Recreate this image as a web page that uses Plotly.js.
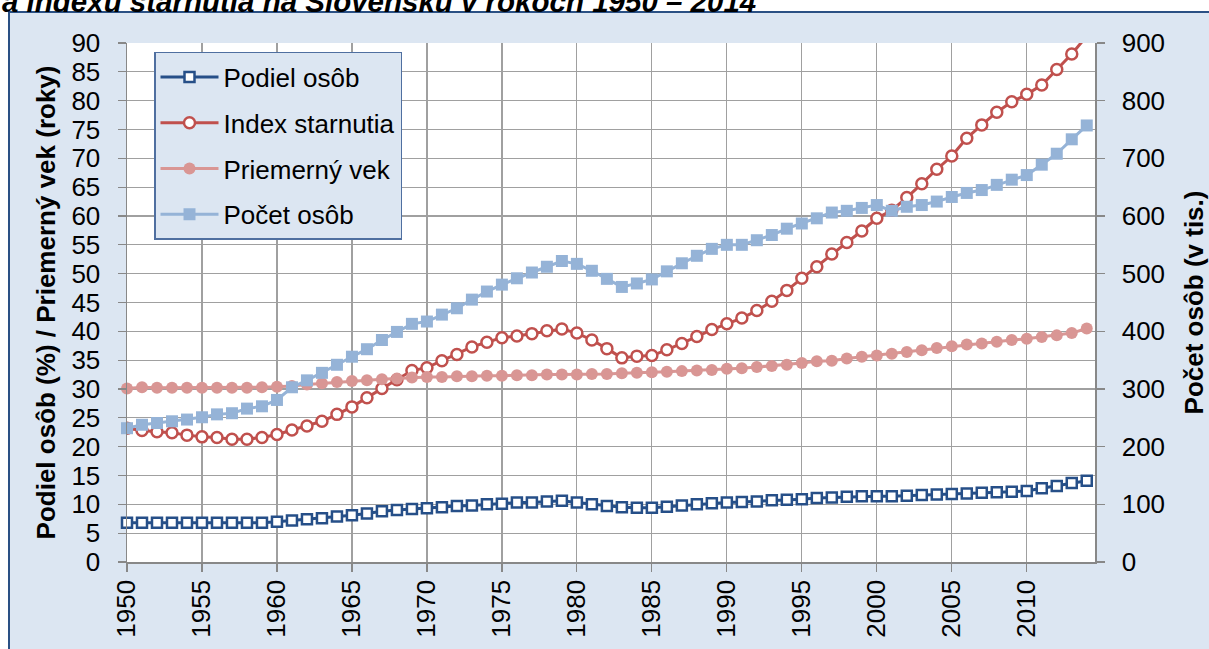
<!DOCTYPE html>
<html>
<head>
<meta charset="utf-8">
<script src="https://cdn.plot.ly/plotly-3.0.1.min.js"></script>
<style>
html,body{margin:0;padding:0;background:#fff;}
#chart{width:1209px;height:649px;}
</style>
</head>
<body>
<div id="chart"></div>
<script>
var years = [1950,1951,1952,1953,1954,1955,1956,1957,1958,1959,
  1960,1961,1962,1963,1964,1965,1966,1967,1968,1969,
  1970,1971,1972,1973,1974,1975,1976,1977,1978,1979,
  1980,1981,1982,1983,1984,1985,1986,1987,1988,1989,
  1990,1991,1992,1993,1994,1995,1996,1997,1998,1999,
  2000,2001,2002,2003,2004,2005,2006,2007,2008,2009,
  2010,2011,2012,2013,2014];

var podielOsob = [6.8,6.8,6.8,6.8,6.8,6.8,6.8,6.8,6.8,6.8,
  7.0,7.2,7.4,7.6,7.9,8.1,8.4,8.8,9.0,9.2,
  9.3,9.5,9.7,9.8,10.0,10.1,10.3,10.3,10.5,10.6,
  10.3,10.0,9.7,9.5,9.4,9.4,9.6,9.8,10.0,10.2,
  10.3,10.4,10.5,10.7,10.8,10.9,11.1,11.2,11.3,11.4,
  11.4,11.4,11.5,11.6,11.7,11.8,11.9,12.0,12.1,12.2,
  12.3,12.8,13.2,13.7,14.1];

var indexStarnutia = [23.2,22.8,22.6,22.4,22.0,21.7,21.6,21.3,21.3,21.6,
  22.1,22.9,23.6,24.4,25.6,26.9,28.5,30.1,31.6,33.2,
  33.7,34.9,36.0,37.3,38.1,38.9,39.2,39.6,40.1,40.4,
  39.7,38.5,37.0,35.4,35.7,35.8,36.8,37.9,39.1,40.3,
  41.3,42.3,43.6,45.2,47.1,49.2,51.2,53.4,55.4,57.4,
  59.6,61.0,63.2,65.6,68.1,70.4,73.5,75.8,78.0,79.8,
  81.1,82.7,85.4,88.1,91.2];

var priemernyVek = [30.1,30.3,30.2,30.2,30.2,30.2,30.2,30.2,30.2,30.3,
  30.4,30.5,30.8,31.0,31.2,31.4,31.5,31.7,31.8,32.0,
  32.1,32.1,32.2,32.2,32.3,32.3,32.4,32.4,32.5,32.5,
  32.5,32.6,32.6,32.75,32.8,32.9,33.0,33.1,33.2,33.3,
  33.5,33.6,33.8,34.0,34.2,34.5,34.8,34.9,35.3,35.6,
  35.8,36.1,36.4,36.7,37.1,37.4,37.7,37.9,38.2,38.5,
  38.7,39.0,39.3,39.7,40.5];

var pocetOsob = [232,238,241,244,247,251,256,258,266,270,
  281,303,315,328,342,356,369,385,399,413,
  417,429,440,455,469,481,492,502,512,522,
  517,505,491,477,483,490,504,518,531,543,
  550,550,558,567,578,587,596,606,609,614,
  619,609,616,619,625,633,640,645,654,663,
  671,689,708,733,757];

var seriesNames = ['Podiel osôb','Index starnutia','Priemerný vek','Počet osôb'];
var chartTitle = 'a indexu starnutia na Slovensku v rokoch 1950 – 2014';
var leftTitle = 'Podiel osôb (%) / Priemerný vek (roky)';
var rightTitle = 'Počet osôb (v tis.)';

var FONT = 'Liberation Sans, Arial, sans-serif';

var traces = [
  {x: years, y: podielOsob, name: seriesNames[0], type: 'scatter', mode: 'lines+markers',
   legendgroup: 'a', cliponaxis: false,
   line: {color: '#264f88', width: 3},
   marker: {symbol: 'square', size: 10, color: '#ffffff', line: {color: '#264f88', width: 2.5}}},
  {x: years, y: indexStarnutia, name: seriesNames[1], type: 'scatter', mode: 'lines+markers',
   legendgroup: 'b', cliponaxis: true,
   line: {color: '#c0504d', width: 3},
   marker: {symbol: 'circle', size: 11, color: '#ffffff', line: {color: '#c0504d', width: 2.5}}},
  {x: years, y: priemernyVek, name: seriesNames[2], type: 'scatter', mode: 'lines+markers',
   legendgroup: 'c', cliponaxis: false,
   line: {color: '#d99694', width: 3},
   marker: {symbol: 'circle', size: 12, color: '#d99694'}},
  {x: years, y: pocetOsob, name: seriesNames[3], type: 'scatter', mode: 'lines+markers',
   legendgroup: 'd', cliponaxis: false, yaxis: 'y2',
   line: {color: '#95b3d7', width: 3},
   marker: {symbol: 'square', size: 12, color: '#95b3d7'}}
];

var L = 127, R = 1095, T = 43, B = 562.5, W = 1209, H = 649;
function px(x){ return (x - L) / (R - L); }
function py(y){ return (B - y) / (B - T); }

var layout = {
  width: W, height: H,
  margin: {l: L, r: W - R, t: T, b: H - B, pad: 0},
  paper_bgcolor: '#dce6f2',
  plot_bgcolor: '#ffffff',
  font: {family: FONT, size: 26, color: '#000000'},
  showlegend: true,
  legend: {
    x: px(154), y: py(52), xanchor: 'left', yanchor: 'top',
    bgcolor: '#dce6f2', bordercolor: '#4f6fa0', borderwidth: 1.5,
    font: {family: FONT, size: 26, color: '#000'},
    traceorder: 'grouped', tracegroupgap: 9, itemwidth: 58
  },
  xaxis: {
    range: [1950, 2014.55], tick0: 1950, dtick: 5, tickangle: -90,
    showgrid: true, gridcolor: '#a0a0a0', gridwidth: 1.2,
    showline: true, linecolor: '#888888', linewidth: 1.5,
    ticks: 'outside', ticklen: 8, tickcolor: '#888888', tickwidth: 1.2,
    zeroline: false, tickfont: {family: FONT, size: 26}, ticklabelstandoff: -2
  },
  yaxis: {
    range: [0, 90], tick0: 0, dtick: 5,
    showgrid: true, gridcolor: '#a0a0a0', gridwidth: 1.2,
    showline: true, linecolor: '#888888', linewidth: 1.5,
    ticks: 'outside', ticklen: 8, tickcolor: '#888888', tickwidth: 1.2,
    zeroline: false, tickfont: {family: FONT, size: 26}, ticklabelstandoff: 12,
    title: {text: leftTitle, font: {family: FONT, size: 26, weight: 'bold'}, standoff: 8}
  },
  yaxis2: {
    range: [0, 900], tick0: 0, dtick: 100, overlaying: 'y', side: 'right',
    showgrid: false, showline: true, linecolor: '#888888', linewidth: 1.5,
    ticks: 'outside', ticklen: 8, tickcolor: '#888888', tickwidth: 1.2,
    zeroline: false, tickfont: {family: FONT, size: 26}, ticklabelstandoff: 12,
    title: {text: rightTitle, font: {family: FONT, size: 26, weight: 'bold'}, standoff: 20}
  },
  shapes: [
    {type: 'rect', xref: 'paper', yref: 'paper', layer: 'below',
     x0: px(-20), x1: px(1240), y0: py(11), y1: py(-20), fillcolor: '#ffffff', line: {width: 0}},
    {type: 'rect', xref: 'paper', yref: 'paper', layer: 'below',
     x0: px(-20), x1: px(8), y0: py(680), y1: py(-20), fillcolor: '#ffffff', line: {width: 0}},
    {type: 'rect', xref: 'paper', yref: 'paper', layer: 'above',
     x0: px(9), x1: px(1230), y0: py(680), y1: py(12), fillcolor: 'rgba(0,0,0,0)',
     line: {color: '#2a5084', width: 2}}
  ],
  annotations: [
    {text: chartTitle, xref: 'paper', yref: 'paper', x: px(0), y: py(1),
     xanchor: 'left', yanchor: 'middle', showarrow: false,
     font: {family: FONT, size: 29.5, color: '#000', weight: 'bold', style: 'italic'}}
  ]
};

Plotly.newPlot('chart', traces, layout, {displayModeBar: false, staticPlot: true});
</script>
</body>
</html>
